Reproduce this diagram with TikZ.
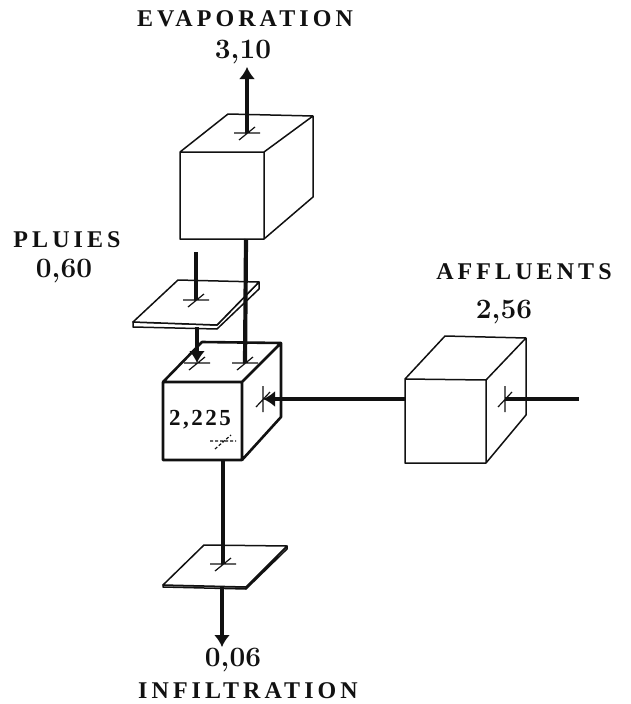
\documentclass[tikz,border=0pt]{standalone}
\usepackage{fontspec}
\usepackage{xcolor}
\usetikzlibrary{arrows.meta,positioning}
\newfontfamily\spaced[LetterSpace=17]{Liberation Serif}
\newfontfamily\stock[LetterSpace=11]{Liberation Serif}
\definecolor{bilink}{HTML}{111111}
\tikzset{
  face/.style={draw=bilink,line width=1.5pt,line join=round},
  heavy/.style={face,line width=2.6pt},
  plate/.style={draw=bilink,fill=white,line width=1.5pt,line join=round},
  flow/.style={draw=bilink,line width=4.2pt},
  arr/.style={flow,-{Latex[length=12pt,width=16pt]}},
  tag/.style={font=\spaced\bfseries\fontsize{24}{26}\selectfont,text=bilink,inner sep=0pt},
  val/.style={font=\bfseries\fontsize{28}{30}\selectfont,text=bilink,inner sep=0pt},
  hcross/.pic={\draw[bilink,line width=1.2pt] (-13,0)--(13,0) (-8,7)--(8,-6);},
  vcross/.pic={\draw[bilink,line width=1.2pt] (0,-13)--(0,13) (-7,8)--(7,-7);},
}
\begin{document}
\begin{tikzpicture}[x=1pt,y=-1pt]
\useasboundingbox (0,0) rectangle (630,704);
% evaporation box
\coordinate (ea) at (180,152); \coordinate (eb) at (264,152);
\coordinate (ec) at (264,239); \coordinate (ed) at (180,239);
\coordinate (ee) at (228,114); \coordinate (ef) at (313,116); \coordinate (eg) at (313,197);
\draw[face] (ea)--(eb)--(ec)--(ed)--cycle (ea)--(ee)--(ef)--(eb) (ef)--(eg)--(ec);
% lake box
\coordinate (la) at (163,382); \coordinate (lb) at (242,382);
\coordinate (lc) at (242,460); \coordinate (ld) at (163,460);
\coordinate (le) at (202,342); \coordinate (lf) at (281,343); \coordinate (lg) at (281,417);
\draw[heavy] (la)--(lb)--(lc)--(ld)--cycle (la)--(le)--(lf)--(lb) (lf)--(lg)--(lc);
% tributary box
\coordinate (ta) at (405,379); \coordinate (tb) at (486,380);
\coordinate (tc) at (486,463); \coordinate (td) at (405,463);
\coordinate (te) at (445,336); \coordinate (tf) at (526,338); \coordinate (tg) at (526,415);
\draw[face] (ta)--(tb)--(tc)--(td)--cycle (ta)--(te)--(tf)--(tb) (tf)--(tg)--(tc);
% plates
\draw[plate] (133,322)--(133,327)--(217,329)--(259,289)--(259,282)--(217,325)--cycle;
\draw[plate] (133,322)--(178,280)--(259,282)--(217,325)--cycle;
\draw[plate] (163,585)--(163,587)--(246,589)--(287,549)--(287,546)--(246,587)--cycle;
\draw[plate] (163,585)--(204,545)--(287,546)--(246,587)--cycle;
% flows
\coordinate (evapin) at (247,133); \coordinate (evaptip) at (247,67);
\coordinate (evapout) at (246,239); \coordinate (lakeone) at (245,363);
\coordinate (rainin) at (196,252); \coordinate (rainmid) at (196,300);
\coordinate (rainout) at (197,327); \coordinate (laketwo) at (197,363);
\coordinate (lakeout) at (223,460); \coordinate (infmid) at (223,564);
\coordinate (infout) at (222,587); \coordinate (inftip) at (222,647);
\coordinate (affin) at (579,399); \coordinate (affcr) at (505,399);
\coordinate (affout) at (405,399); \coordinate (lakein) at (263,399);
\draw[arr] (evapin)--(evaptip);
\draw[flow] (evapout)--(lakeone);
\draw[flow] (rainin)--(rainmid);
\draw[arr] (rainout)--(laketwo);
\draw[flow] (lakeout)--(infmid);
\draw[arr] (infout)--(inftip);
\draw[flow] (affin)--(affcr);
\draw[arr] (affout)--(lakein);
\pic at (evapin) {hcross}; \pic at (lakeone) {hcross}; \pic at (rainmid) {hcross};
\pic at (laketwo) {hcross}; \pic at (infmid) {hcross};
\pic at (lakein) {vcross}; \pic at (affcr) {vcross};
\draw[bilink,line width=1.2pt,dashed,dash pattern=on 3pt off 2pt] (210,441)--(236,441) (215,449)--(231,435);
% labels
\node[tag] (evaplab) at (245,19) {EVAPORATION};
\node[val] (evapval) at (243,52) {3,10};
\node[tag] (rainlab) at (67,240) {PLUIES};
\node[val] (rainval) at (64,271) {0,60};
\node[tag] (afflab) at (524,272) {AFFLUENTS};
\node[val] (affval) at (504,312) {2,56};
\node[val] (infval) at (233,660) {0,06};
\node[tag] (inflab) at (248,691) {INFILTRATION};
\node[font=\stock\bfseries\fontsize{23}{25}\selectfont,text=bilink,inner sep=0pt] (lakeval) at (200,420) {2,225};
\end{tikzpicture}
\end{document}
